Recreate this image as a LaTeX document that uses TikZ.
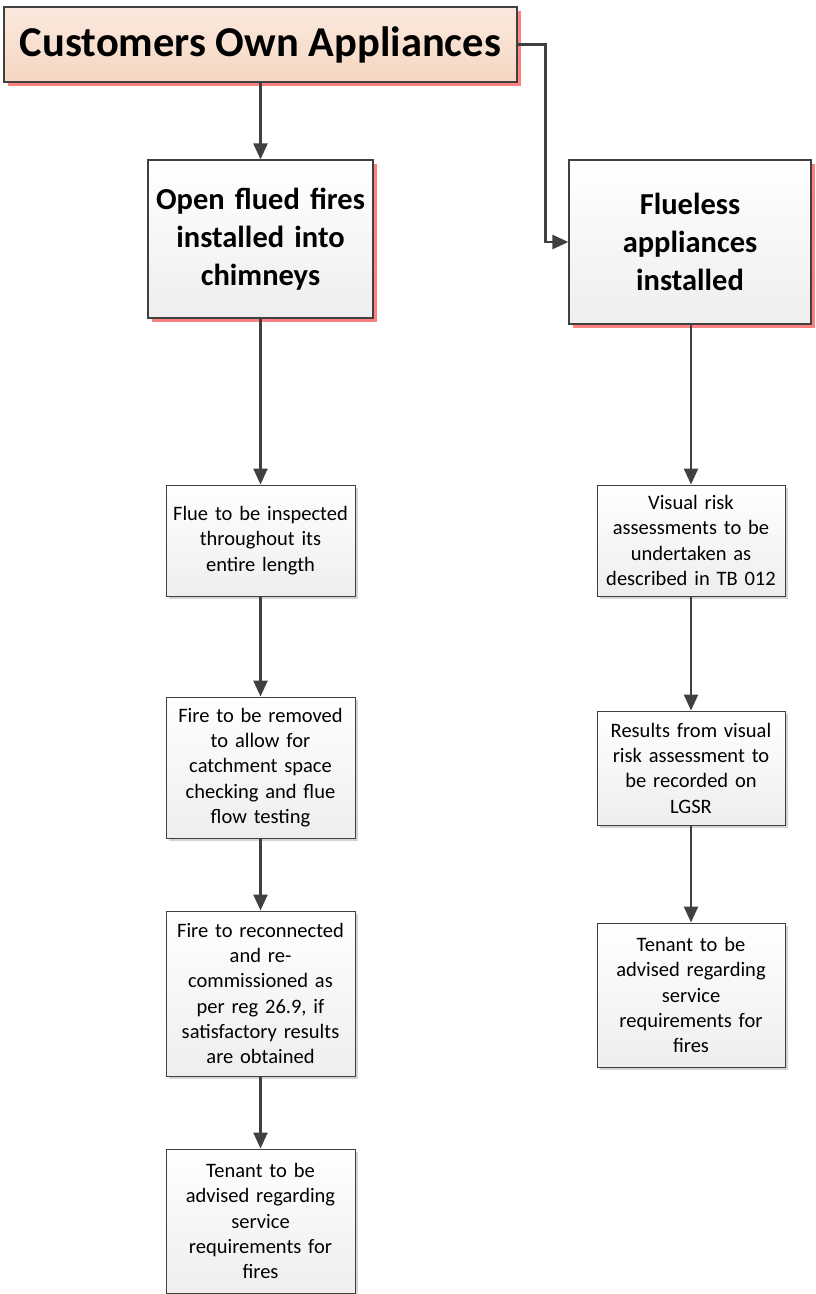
\documentclass[tikz,border=0pt]{standalone}
\usepackage{fontspec}
\setmainfont{Carlito}
\usetikzlibrary{arrows.meta,shadows}
\definecolor{edge}{HTML}{404040}
\definecolor{shadowred}{HTML}{FF8080}
\definecolor{shadowgray}{HTML}{D4D4D4}
\definecolor{peachtop}{HTML}{FBEADF}
\definecolor{peachbot}{HTML}{F5D6C1}
\definecolor{graybot}{HTML}{EEEEEE}
\tikzset{
  x=1pt, y=-1pt,
  titlebox/.style={draw=edge, line width=1.2pt, top color=peachtop, bottom color=peachbot,
    minimum width=513pt, minimum height=75pt, inner sep=0pt,
    drop shadow={shadow xshift=4pt, shadow yshift=-4pt, fill=shadowred, opacity=1},
    font=\fontsize{42.5}{46}\selectfont\bfseries},
  bigbox/.style={draw=edge, line width=1.2pt, top color=white, bottom color=graybot,
    inner sep=0pt, align=center,
    drop shadow={shadow xshift=4pt, shadow yshift=-4pt, fill=shadowred, opacity=1},
    font=\fontsize{30.5}{38}\selectfont\bfseries},
  smallbox/.style={draw=edge, line width=1pt, top color=white, bottom color=graybot,
    inner sep=0pt, align=center,
    drop shadow={shadow xshift=3pt, shadow yshift=-3pt, fill=shadowgray, opacity=1},
    font=\fontsize{20.5}{25.3}\selectfont},
  flow/.style={draw=edge, line width=2.4pt, -{Triangle[length=16pt,width=14pt]}}
}
\begin{document}
\begin{tikzpicture}
\useasboundingbox (0,0) rectangle (816,1294);

% top level
\node[titlebox] (top) at (260.5,44.5) {\raisebox{5pt}{Customers Own Appliances}};

% two branches
\node[bigbox, minimum width=225pt, minimum height=158pt, text width=222pt] (open) at (260.5,239)
  {Open flued fires\\installed into\\chimneys};
\node[bigbox, minimum width=242pt, minimum height=164pt, text width=236pt] (fless) at (690,242)
  {Flueless\\appliances\\installed};

% left column steps
\node[smallbox, minimum width=189pt, minimum height=111pt, text width=186pt] (flue) at (260.5,540.5)
  {Flue to be inspected\\throughout its\\entire length};
\node[smallbox, minimum width=189pt, minimum height=141pt, text width=186pt] (remove) at (260.5,767.5)
  {Fire to be removed\\to allow for\\catchment space\\checking and flue\\flow testing};
\node[smallbox, minimum width=189pt, minimum height=165pt, text width=186pt] (recon) at (260.5,993.5)
  {Fire to reconnected\\and re-\\commissioned as\\per reg 26.9, if\\satisfactory results\\are obtained};
\node[smallbox, minimum width=189pt, minimum height=144pt, text width=186pt] (tenantL) at (260.5,1221)
  {Tenant to be\\advised regarding\\service\\requirements for\\fires};

% right column steps
\node[smallbox, minimum width=188pt, minimum height=111pt, text width=186pt] (visual) at (691,540.5)
  {Visual risk\\assessments to be\\undertaken as\\described in TB 012};
\node[smallbox, minimum width=188pt, minimum height=114pt, text width=186pt] (results) at (691,768)
  {Results from visual\\risk assessment to\\be recorded on\\LGSR};
\node[smallbox, minimum width=188pt, minimum height=144pt, text width=186pt] (tenantR) at (691,995)
  {Tenant to be\\advised regarding\\service\\requirements for\\fires};

% connectors
\draw[flow] (top.south -| open.north) -- (open.north);
\draw[flow] (top.east) -- ++(28,0) |- (fless.west);
\draw[flow] (open.south) -- (flue.north);
\draw[flow] (flue.south) -- (remove.north);
\draw[flow] (remove.south) -- (recon.north);
\draw[flow] (recon.south) -- (tenantL.north);
\draw[flow] (fless.south -| visual.north) -- (visual.north);
\draw[flow] (visual.south) -- (results.north);
\draw[flow] (results.south) -- (tenantR.north);
\end{tikzpicture}
\end{document}
